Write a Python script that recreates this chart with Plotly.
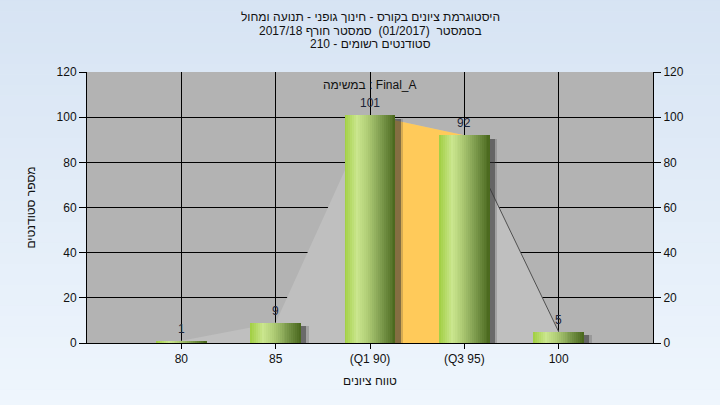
import plotly.graph_objects as go

# ---------------- data ----------------
categories = ["80", "85", "(Q1 90)", "(Q3 95)", "100"]
counts = [1, 9, 101, 92, 5]
y_tick_values = [0, 20, 40, 60, 80, 100, 120]
title_lines = [
    "היסטוגרמת ציונים בקורס - חינוך גופני - תנועה ומחול",
    "בסמסטר  (01/2017)  סמסטר חורף 2017/18",
    "סטודנטים רשומים - 210",
]
task_label = "במשימה : Final_A"
x_title = "טווח ציונים"
y_title = "מספר סטודנטים"
q1_index, q3_index = 2, 3

# ---------------- styling helpers ----------------
FONT = "Liberation Sans, DejaVu Sans, Arial, sans-serif"
xpos = [i + 1 for i in range(len(categories))]
BAR_W = 0.54


def lerp(c1, c2, t):
    return tuple(round(a + (b - a) * t) for a, b in zip(c1, c2))


def grad(stops, t):
    for (t0, c0), (t1, c1) in zip(stops, stops[1:]):
        if t0 <= t <= t1:
            return lerp(c0, c1, (t - t0) / (t1 - t0) if t1 > t0 else 0)
    return stops[-1][1]


bar_stops = [
    (0.0, (160, 206, 64)),
    (0.25, (202, 230, 142)),
    (0.45, (176, 205, 118)),
    (0.7, (128, 158, 80)),
    (1.0, (72, 102, 28)),
]

fig = go.Figure()

# background area under the distribution (main subplot, below bars)
fig.add_trace(go.Scatter(
    x=xpos, y=counts, mode="lines", fill="tozeroy",
    fillcolor="#bfbfbf", line=dict(width=0), hoverinfo="skip", showlegend=False))

# interquartile area
fig.add_trace(go.Scatter(
    x=xpos[q1_index:q3_index + 1], y=counts[q1_index:q3_index + 1],
    mode="lines", fill="tozeroy", fillcolor="#ffca5a",
    line=dict(width=0), hoverinfo="skip", showlegend=False))

# dark outline segment right of Q3
fig.add_trace(go.Scatter(
    x=xpos[q3_index:], y=counts[q3_index:], mode="lines",
    line=dict(color="#505050", width=1), hoverinfo="skip", showlegend=False))

# bar shadows (overlay subplot, drawn above the areas)
for dx, col in [(0.08, "rgba(50,50,50,0.2)"), (0.055, "rgba(50,50,50,0.5)")]:
    fig.add_trace(go.Bar(
        x=xpos, y=[max(v - 1.6, 0) for v in counts], width=BAR_W,
        offset=-BAR_W / 2 + dx, yaxis="y2",
        marker=dict(color=col, line=dict(width=0)),
        hoverinfo="skip", showlegend=False))

# gradient bars built from slices
N = 26
for i in range(N):
    t = (i + 0.5) / N
    r, g, b = grad(bar_stops, t)
    w = BAR_W / N * 1.6 if i < N - 1 else BAR_W / N
    fig.add_trace(go.Bar(
        x=xpos, y=counts, width=w,
        offset=-BAR_W / 2 + i * BAR_W / N, yaxis="y2",
        marker=dict(color=f"rgb({r},{g},{b})", line=dict(width=0)),
        hoverinfo="skip", showlegend=False))

annotations = []
for x, v in zip(xpos, counts):
    annotations.append(dict(x=x, y=v, xref="x", yref="y", text=str(v),
                            showarrow=False, yshift=12,
                            font=dict(family=FONT, size=12, color="#1c2438")))
annotations.append(dict(x=0.5, y=1, xref="paper", yref="paper", text=task_label,
                        showarrow=False, yanchor="middle", yshift=-13,
                        font=dict(family=FONT, size=12, color="#111")))
for k, line in enumerate(title_lines):
    annotations.append(dict(x=0.5, xref="paper", y=1, yref="paper", text=line,
                            showarrow=False, yanchor="middle",
                            yshift=72 - 17 - 13.5 * k,
                            font=dict(family=FONT, size=12, color="#111")))

# background gradient bands + plot area
shapes = []
top = (214, 227, 243)
bot = (239, 246, 253)
NB = 40
y_lo, y_hi = -0.25, 1.3
for i in range(NB):
    y0 = y_lo + (y_hi - y_lo) * i / NB
    y1 = y_lo + (y_hi - y_lo) * (i + 1) / NB + 0.002
    r, g, b = lerp(bot, top, (i + 0.5) / NB)
    shapes.append(dict(type="rect", xref="paper", yref="paper", x0=-0.2, x1=1.2,
                       y0=y0, y1=y1, fillcolor=f"rgb({r},{g},{b})",
                       line=dict(width=0), layer="below"))
shapes.append(dict(type="rect", xref="paper", yref="paper", x0=0, x1=1, y0=0, y1=1,
                   fillcolor="#b3b3b3", line=dict(width=0), layer="below"))

fig.update_layout(
    width=720, height=405,
    margin=dict(l=87, r=67, t=72, b=62, autoexpand=False),
    paper_bgcolor="rgb(228,237,248)",
    plot_bgcolor="rgba(0,0,0,0)",
    barmode="overlay", bargap=0,
    font=dict(family=FONT, size=12, color="#111"),
    showlegend=False,
    annotations=annotations,
    shapes=shapes,
    xaxis=dict(range=[0, len(categories) + 1], tickvals=xpos, ticktext=categories,
               showgrid=True, gridcolor="black", gridwidth=1, zeroline=False,
               showline=True, linecolor="black", linewidth=1,
               ticks="outside", ticklen=5, tickcolor="black", automargin=False,
               title=dict(text=x_title, standoff=11, font=dict(size=12))),
    yaxis=dict(range=[0, 120], tickvals=y_tick_values, showgrid=True,
               gridcolor="black", gridwidth=1, zeroline=False,
               showline=True, linecolor="black", linewidth=1,
               ticks="outside", ticklen=7, tickcolor="black", automargin=False,
               title=dict(text=y_title, standoff=18, font=dict(size=12))),
    yaxis2=dict(range=[0, 120], tickvals=y_tick_values, overlaying="y", side="right",
                showgrid=False, zeroline=False, showline=True, linecolor="black",
                linewidth=1, ticks="outside", ticklen=7, tickcolor="black",
                automargin=False),
)

fig.write_html(
    "out.html",
    config={"displayModeBar": False},
    post_script="document.body.style.margin='0';document.body.style.overflow='hidden';",
)
